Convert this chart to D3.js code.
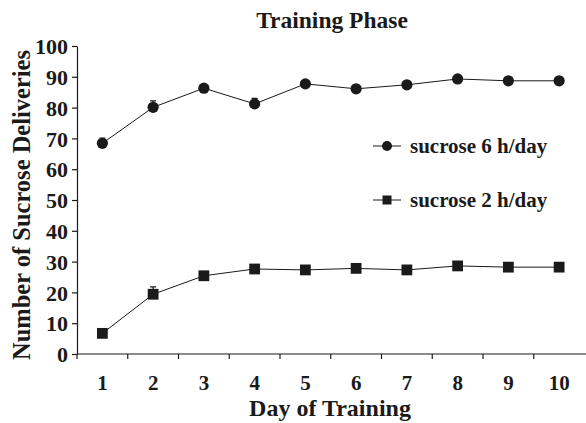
<!DOCTYPE html>
<html>
<head>
<meta charset="utf-8">
<script src="https://cdn.jsdelivr.net/npm/d3@7"></script>
<style>
  html, body { margin: 0; padding: 0; background: #fff; }
  svg text { font-family: "Liberation Serif", "Times New Roman", serif; font-weight: bold; fill: #1a1a1a; }
</style>
</head>
<body>
<svg id="chart" width="586" height="423"></svg>
<script>
// Days of training (x categories)
const days = ["1", "2", "3", "4", "5", "6", "7", "8", "9", "10"];

// Mean sucrose deliveries and upward error (SEM) per day
const sucrose6h = [68.4, 80.1, 86.3, 81.2, 87.7, 86.1, 87.4, 89.3, 88.7, 88.7];
const sucrose6hErr = [1.7, 2.1, 0.8, 1.8, 0.9, 0.8, 0.8, 0.7, 0.7, 0.7];
const sucrose2h = [6.7, 19.4, 25.4, 27.6, 27.3, 27.8, 27.3, 28.6, 28.2, 28.2];
const sucrose2hErr = [0.8, 2.4, 1.0, 0.9, 0.8, 0.8, 0.8, 0.8, 0.8, 0.8];

const yTicks = [0, 10, 20, 30, 40, 50, 60, 70, 80, 90, 100];

const seriesNames = ["sucrose 6 h/day", "sucrose 2 h/day"];

const svg = d3.select("#chart");
const ink = "#1a1a1a";

const x = d3.scaleBand().domain(days).range([77, 584.5]).paddingInner(0).paddingOuter(0);
const y = d3.scaleLinear().domain([0, 100]).range([354, 46]);

// Title
svg.append("text")
  .attr("x", 332).attr("y", 28)
  .attr("text-anchor", "middle")
  .style("font-size", "23.5px")
  .text("Training Phase");

// Y axis
const yAxis = svg.append("g").attr("transform", "translate(77,0)")
  .call(d3.axisLeft(y).tickValues(yTicks).tickSize(5).tickPadding(4).tickSizeOuter(0));
yAxis.select(".domain").attr("stroke", ink).attr("stroke-width", 1.2);
yAxis.selectAll(".tick line").attr("stroke", ink).attr("stroke-width", 1.2);
yAxis.selectAll(".tick text").style("font-size", "22px").attr("dy", "0.35em");

// X axis: ticks at category boundaries, labels centred in each band
const boundaries = days.map(d => x(d));
svg.append("line")
  .attr("x1", 77).attr("x2", 586)
  .attr("y1", y(0)).attr("y2", y(0))
  .attr("stroke", ink).attr("stroke-width", 1.2);
svg.append("g").selectAll("line").data(boundaries).join("line")
  .attr("x1", d => d).attr("x2", d => d)
  .attr("y1", y(0)).attr("y2", y(0) + 5)
  .attr("stroke", ink).attr("stroke-width", 1.2);
svg.append("g").selectAll("text").data(days).join("text")
  .attr("x", d => x(d) + x.bandwidth() / 2)
  .attr("y", 390)
  .attr("text-anchor", "middle")
  .style("font-size", "21px")
  .text(d => d);

// Axis titles
svg.append("text")
  .attr("x", 330).attr("y", 416)
  .attr("text-anchor", "middle")
  .style("font-size", "24px")
  .text("Day of Training");

svg.append("text")
  .attr("transform", "translate(30,205) rotate(-90)")
  .attr("text-anchor", "middle")
  .style("font-size", "24.5px")
  .text("Number of Sucrose Deliveries");

// Series
const cx = d => x(d) + x.bandwidth() / 2;
const line = d3.line().x(d => cx(d.day)).y(d => y(d.v));

function drawSeries(values, errs, shape) {
  const pts = days.map((d, i) => ({ day: d, v: values[i], e: errs[i] }));
  const g = svg.append("g");
  g.append("path").datum(pts)
    .attr("d", line).attr("fill", "none")
    .attr("stroke", ink).attr("stroke-width", 1);
  // upward error bars with caps
  g.selectAll(".err").data(pts).join("path")
    .attr("d", p => `M${cx(p.day)},${y(p.v)}V${y(p.v + p.e)}M${cx(p.day) - 3},${y(p.v + p.e)}H${cx(p.day) + 3}`)
    .attr("stroke", ink).attr("stroke-width", 1.2).attr("fill", "none");
  if (shape === "circle") {
    g.selectAll("circle").data(pts).join("circle")
      .attr("cx", p => cx(p.day)).attr("cy", p => y(p.v))
      .attr("r", 5.6).attr("fill", ink);
  } else {
    g.selectAll("rect").data(pts).join("rect")
      .attr("x", p => cx(p.day) - 5.4).attr("y", p => y(p.v) - 5.4)
      .attr("width", 10.8).attr("height", 10.8).attr("fill", ink);
  }
}
drawSeries(sucrose6h, sucrose6hErr, "circle");
drawSeries(sucrose2h, sucrose2hErr, "square");

// Legend
const legend = svg.append("g");
const legendRows = [{ name: seriesNames[0], shape: "circle", y: 146 }, { name: seriesNames[1], shape: "square", y: 200 }];
legendRows.forEach(r => {
  legend.append("line").attr("x1", 373).attr("x2", 401).attr("y1", r.y).attr("y2", r.y)
    .attr("stroke", ink).attr("stroke-width", 1);
  if (r.shape === "circle") {
    legend.append("circle").attr("cx", 387).attr("cy", r.y).attr("r", 5).attr("fill", ink);
  } else {
    legend.append("rect").attr("x", 382.5).attr("y", r.y - 4.5).attr("width", 9).attr("height", 9).attr("fill", ink);
  }
  legend.append("text").attr("x", 410).attr("y", r.y).attr("dy", "0.32em")
    .style("font-size", "21px").text(r.name);
});
</script>
</body>
</html>
